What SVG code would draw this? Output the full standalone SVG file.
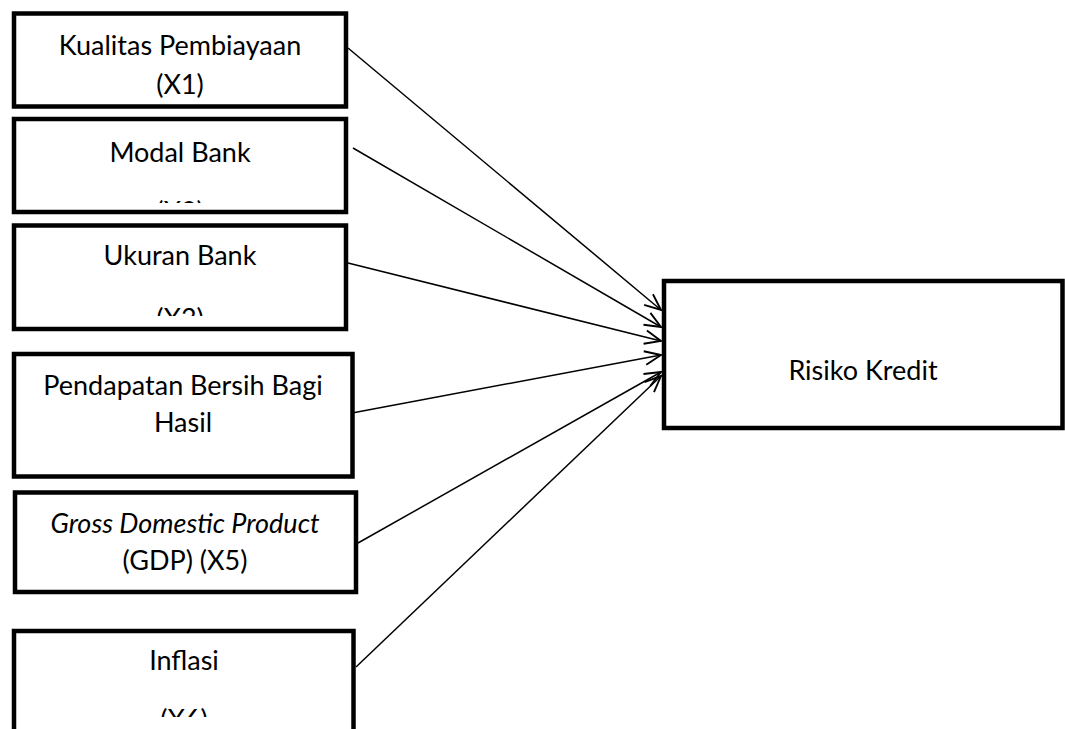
<svg xmlns="http://www.w3.org/2000/svg" width="1065" height="729" viewBox="0 0 1065 729">
<style>
.box{fill:#fff;stroke:#000;stroke-width:4.5}
.t{font-family:Lato,"Liberation Sans",sans-serif;font-size:27px;fill:#000;text-anchor:middle}
.it{font-style:italic}
.c{stroke:#000;stroke-width:1.5;fill:none}
</style>
<defs>
<marker id="ah" markerUnits="userSpaceOnUse" markerWidth="20" markerHeight="20" viewBox="-14 -8 16 16" refX="0" refY="0" orient="auto">
<path d="M-13,-5.5 L0,0 L-13,5.5" fill="none" stroke="#000" stroke-width="1.5"/>
</marker>
<clipPath id="c2"><rect x="16" y="121" width="328" height="82"/></clipPath>
<clipPath id="c3"><rect x="16" y="228" width="328" height="88"/></clipPath>
<clipPath id="c6"><rect x="16" y="633" width="335" height="84"/></clipPath>
</defs>
<rect width="1065" height="729" fill="#fff"/>
<g id="n1">
<rect class="box" x="14" y="13.5" width="332" height="93"/>
<text class="t" x="180" y="55">Kualitas Pembiayaan</text>
<text class="t" x="180" y="94">(X1)</text>
</g>
<g id="n2">
<rect class="box" x="14" y="119" width="332" height="93"/>
<g clip-path="url(#c2)">
<text class="t" x="180" y="162">Modal Bank</text>
<text class="t" x="180" y="221">(X2)</text>
</g>
</g>
<g id="n3">
<rect class="box" x="14" y="225.5" width="332" height="103.5"/>
<g clip-path="url(#c3)">
<text class="t" x="180" y="265">Ukuran Bank</text>
<text class="t" x="180" y="328">(X3)</text>
</g>
</g>
<g id="n4">
<rect class="box" x="14" y="354" width="338.5" height="122.5"/>
<text class="t" x="183" y="395">Pendapatan Bersih Bagi</text>
<text class="t" x="183" y="432">Hasil</text>
</g>
<g id="n5">
<rect class="box" x="15" y="492.5" width="341" height="99.5"/>
<text class="t it" x="185" y="533">Gross Domestic Product</text>
<text class="t" x="185" y="570">(GDP) (X5)</text>
</g>
<g id="n6">
<rect class="box" x="14" y="631" width="339.5" height="120"/>
<g clip-path="url(#c6)">
<text class="t" x="184" y="670">Inflasi</text>
<text class="t" x="184" y="729">(X6)</text>
</g>
</g>
<g id="n7">
<rect class="box" x="664" y="281" width="398.5" height="147"/>
<text class="t" x="863" y="380">Risiko Kredit</text>
</g>
<g id="connectors">
<line class="c" x1="348" y1="48" x2="661" y2="310" marker-end="url(#ah)"/>
<line class="c" x1="353" y1="148" x2="661" y2="327" marker-end="url(#ah)"/>
<line class="c" x1="348" y1="263" x2="661" y2="341" marker-end="url(#ah)"/>
<line class="c" x1="352" y1="413" x2="661" y2="355" marker-end="url(#ah)"/>
<line class="c" x1="358" y1="543" x2="661" y2="372" marker-end="url(#ah)"/>
<line class="c" x1="356" y1="667" x2="661" y2="376" marker-end="url(#ah)"/>
</g>
</svg>
